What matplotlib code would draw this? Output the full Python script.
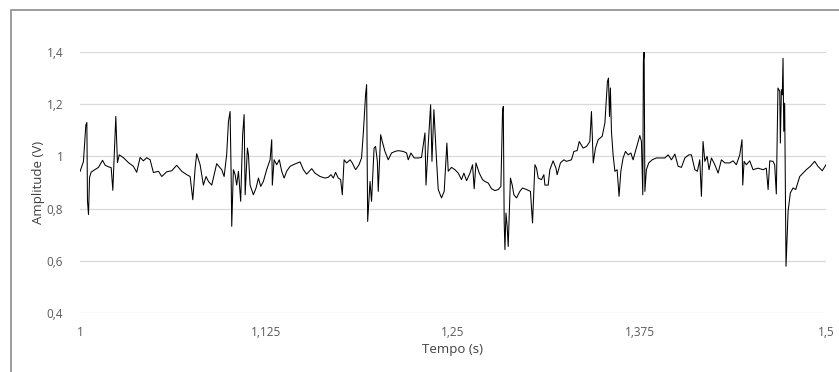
import matplotlib
matplotlib.use("Agg")
import matplotlib.pyplot as plt
from matplotlib.patches import Rectangle
from matplotlib.ticker import FixedLocator, FuncFormatter

# Sinal (tempo em s, amplitude em V)
tempo = [
    1.0001, 1.0023, 1.0030, 1.0039, 1.0046, 1.0050, 1.0057, 1.0064, 1.0075, 1.0102,
    1.0124, 1.0151, 1.0169, 1.0191, 1.0209, 1.0220, 1.0240, 1.0251, 1.0263, 1.0291,
    1.0325, 1.0358, 1.0380, 1.0403, 1.0425, 1.0447, 1.0470, 1.0492, 1.0526, 1.0548,
    1.0581, 1.0615, 1.0648, 1.0682, 1.0715, 1.0738, 1.0756, 1.0772, 1.0782, 1.0805,
    1.0827, 1.0845, 1.0861, 1.0883, 1.0916, 1.0950, 1.0966, 1.0983, 1.0995, 1.1006,
    1.1013, 1.1017, 1.1028, 1.1040, 1.1050, 1.1062, 1.1077, 1.1090, 1.1100, 1.1107,
    1.1122, 1.1129, 1.1140, 1.1162, 1.1180, 1.1196, 1.1211, 1.1229, 1.1251, 1.1274,
    1.1285, 1.1289, 1.1301, 1.1318, 1.1336, 1.1352, 1.1368, 1.1385, 1.1408, 1.1441,
    1.1475, 1.1497, 1.1519, 1.1553, 1.1575, 1.1609, 1.1642, 1.1664, 1.1682, 1.1698,
    1.1713, 1.1731, 1.1747, 1.1758, 1.1770, 1.1787, 1.1810, 1.1825, 1.1847, 1.1870,
    1.1887, 1.1899, 1.1914, 1.1921, 1.1928, 1.1944, 1.1954, 1.1971, 1.1981, 1.1993,
    1.1999, 1.2015, 1.2026, 1.2044, 1.2066, 1.2088, 1.2111, 1.2133, 1.2167, 1.2189,
    1.2200, 1.2218, 1.2240, 1.2267, 1.2289, 1.2312, 1.2319, 1.2334, 1.2350, 1.2359,
    1.2372, 1.2390, 1.2401, 1.2423, 1.2441, 1.2459, 1.2468, 1.2490, 1.2513, 1.2535,
    1.2557, 1.2573, 1.2591, 1.2614, 1.2631, 1.2642, 1.2654, 1.2676, 1.2698, 1.2714,
    1.2736, 1.2758, 1.2781, 1.2803, 1.2821, 1.2832, 1.2837, 1.2843, 1.2848, 1.2855,
    1.2863, 1.2870, 1.2885, 1.2897, 1.2908, 1.2926, 1.2948, 1.2966, 1.2993, 1.3019,
    1.3033, 1.3049, 1.3060, 1.3071, 1.3093, 1.3109, 1.3116, 1.3138, 1.3149, 1.3171,
    1.3190, 1.3198, 1.3220, 1.3243, 1.3260, 1.3294, 1.3310, 1.3332, 1.3346, 1.3372,
    1.3395, 1.3417, 1.3428, 1.3440, 1.3455, 1.3473, 1.3500, 1.3518, 1.3528, 1.3535,
    1.3542, 1.3549, 1.3555, 1.3562, 1.3573, 1.3585, 1.3600, 1.3613, 1.3625, 1.3640,
    1.3656, 1.3674, 1.3692, 1.3707, 1.3729, 1.3752, 1.3763, 1.3772, 1.3776, 1.3781,
    1.3786, 1.3796, 1.3812, 1.3835, 1.3863, 1.3920, 1.3942, 1.3964, 1.3987, 1.4009,
    1.4031, 1.4054, 1.4080, 1.4098, 1.4121, 1.4138, 1.4154, 1.4165, 1.4176, 1.4188,
    1.4203, 1.4216, 1.4232, 1.4255, 1.4277, 1.4299, 1.4322, 1.4355, 1.4377, 1.4399,
    1.4422, 1.4437, 1.4442, 1.4451, 1.4466, 1.4489, 1.4511, 1.4545, 1.4578, 1.4600,
    1.4612, 1.4623, 1.4645, 1.4656, 1.4667, 1.4678, 1.4690, 1.4694, 1.4701, 1.4707,
    1.4712, 1.4717, 1.4723, 1.4727, 1.4732, 1.4746, 1.4761, 1.4779, 1.4797, 1.4824,
    1.4846, 1.4868, 1.4895, 1.4924, 1.4946, 1.4975, 1.5000,
]
amplitude = [
    0.943, 0.980, 1.040, 1.120, 1.130, 0.830, 0.777, 0.920, 0.940, 0.950,
    0.958, 0.985, 0.966, 0.960, 0.957, 0.870, 1.153, 0.976, 1.006, 0.995,
    0.976, 0.962, 0.939, 0.996, 0.983, 0.995, 0.987, 0.938, 0.943, 0.923,
    0.941, 0.945, 0.966, 0.943, 0.930, 0.923, 0.834, 0.957, 1.010, 0.968,
    0.890, 0.923, 0.904, 0.890, 0.972, 0.949, 0.923, 1.006, 1.134, 1.172,
    0.930, 0.732, 0.949, 0.930, 0.890, 0.943, 0.828, 1.083, 1.160, 0.853,
    1.032, 1.006, 0.890, 0.853, 0.879, 0.917, 0.885, 0.904, 0.949, 0.987,
    1.064, 0.890, 0.987, 0.968, 0.987, 0.943, 0.917, 0.943, 0.962, 0.971,
    0.979, 0.949, 0.932, 0.953, 0.936, 0.923, 0.917, 0.920, 0.930, 0.917,
    0.939, 0.917, 0.911, 0.853, 0.987, 0.975, 0.987, 0.975, 0.949, 0.968,
    0.994, 1.090, 1.236, 1.275, 0.751, 0.904, 0.828, 1.032, 1.038, 0.981,
    0.866, 1.083, 1.057, 1.019, 0.987, 1.013, 1.019, 1.022, 1.019, 1.013,
    0.987, 1.013, 0.994, 0.994, 0.996, 1.090, 0.890, 1.045, 1.198, 0.981,
    1.179, 0.981, 0.873, 0.841, 0.866, 1.051, 0.943, 0.958, 0.949, 0.936,
    0.911, 0.936, 0.907, 0.936, 0.968, 0.876, 0.975, 0.936, 0.911, 0.904,
    0.898, 0.876, 0.869, 0.873, 0.885, 1.172, 1.191, 0.751, 0.643, 0.783,
    0.732, 0.655, 0.917, 0.890, 0.853, 0.841, 0.866, 0.879, 0.873, 0.866,
    0.745, 0.968, 0.955, 0.917, 0.911, 0.930, 0.890, 0.890, 0.949, 0.983,
    0.955, 0.930, 0.975, 0.987, 0.981, 0.987, 1.019, 1.022, 1.057, 1.032,
    1.038, 1.057, 1.172, 0.975, 1.032, 1.064, 1.077, 1.128, 1.224, 1.287,
    1.300, 1.153, 1.262, 1.096, 1.006, 0.943, 0.949, 0.847, 0.943, 0.994,
    1.019, 1.006, 1.013, 0.987, 1.032, 1.080, 1.057, 0.853, 1.364, 1.400,
    0.866, 0.949, 0.975, 0.987, 0.994, 0.994, 1.006, 0.987, 1.009, 0.962,
    0.958, 0.994, 1.006, 1.006, 0.949, 0.943, 0.987, 0.847, 1.057, 0.981,
    1.000, 0.949, 0.994, 0.968, 0.936, 0.987, 0.975, 0.975, 0.983, 0.968,
    1.006, 1.064, 0.890, 0.981, 0.968, 0.983, 0.949, 0.955, 0.949, 0.955,
    0.873, 0.983, 0.981, 0.968, 0.856, 1.262, 1.249, 1.051, 1.255, 1.236,
    1.376, 1.096, 1.204, 0.917, 0.579, 0.790, 0.860, 0.879, 0.873, 0.923,
    0.936, 0.949, 0.962, 0.981, 0.962, 0.945, 0.968,
]

xticks = [1, 1.125, 1.25, 1.375, 1.5]
yticks = [0.4, 0.6, 0.8, 1.0, 1.2, 1.4]

plt.rcParams['font.family'] = ['Open Sans', 'DejaVu Sans']

fig = plt.figure(figsize=(8.39, 3.72), dpi=100)
ax = fig.add_axes([80 / 839, 1 - 313 / 372, 746 / 839, 261 / 372])

# borda do grafico (so aparecem topo e esquerda)
fig.patches.append(Rectangle((10.5 / 839, -0.1), 1.2, 1 - 9.5 / 372 + 0.1,
                             transform=fig.transFigure, fill=False,
                             edgecolor='#8c8c8c', linewidth=1.2))

ax.plot(tempo, amplitude, color='black', linewidth=0.75)

ax.set_xlim(1, 1.5)
ax.set_ylim(0.4, 1.4)
ax.xaxis.set_major_locator(FixedLocator(xticks))
ax.yaxis.set_major_locator(FixedLocator(yticks))
fmt = FuncFormatter(lambda v, p: ('%g' % round(v, 3)).replace('.', ','))
ax.xaxis.set_major_formatter(fmt)
ax.yaxis.set_major_formatter(fmt)

ax.grid(axis='y', color='#d9d9d9', linewidth=0.9)
ax.set_axisbelow(True)
for s in ax.spines.values():
    s.set_visible(False)
ax.tick_params(length=0, labelsize=8.5, colors='#595959', pad=9)
ax.tick_params(axis='y', pad=12)

ax.set_xlabel('Tempo (s)', fontsize=9.5, color='#404040', labelpad=3)
ax.set_ylabel('Amplitude (V)', fontsize=9.5, color='#404040', labelpad=1)

fig.savefig('out.png', dpi=100)
